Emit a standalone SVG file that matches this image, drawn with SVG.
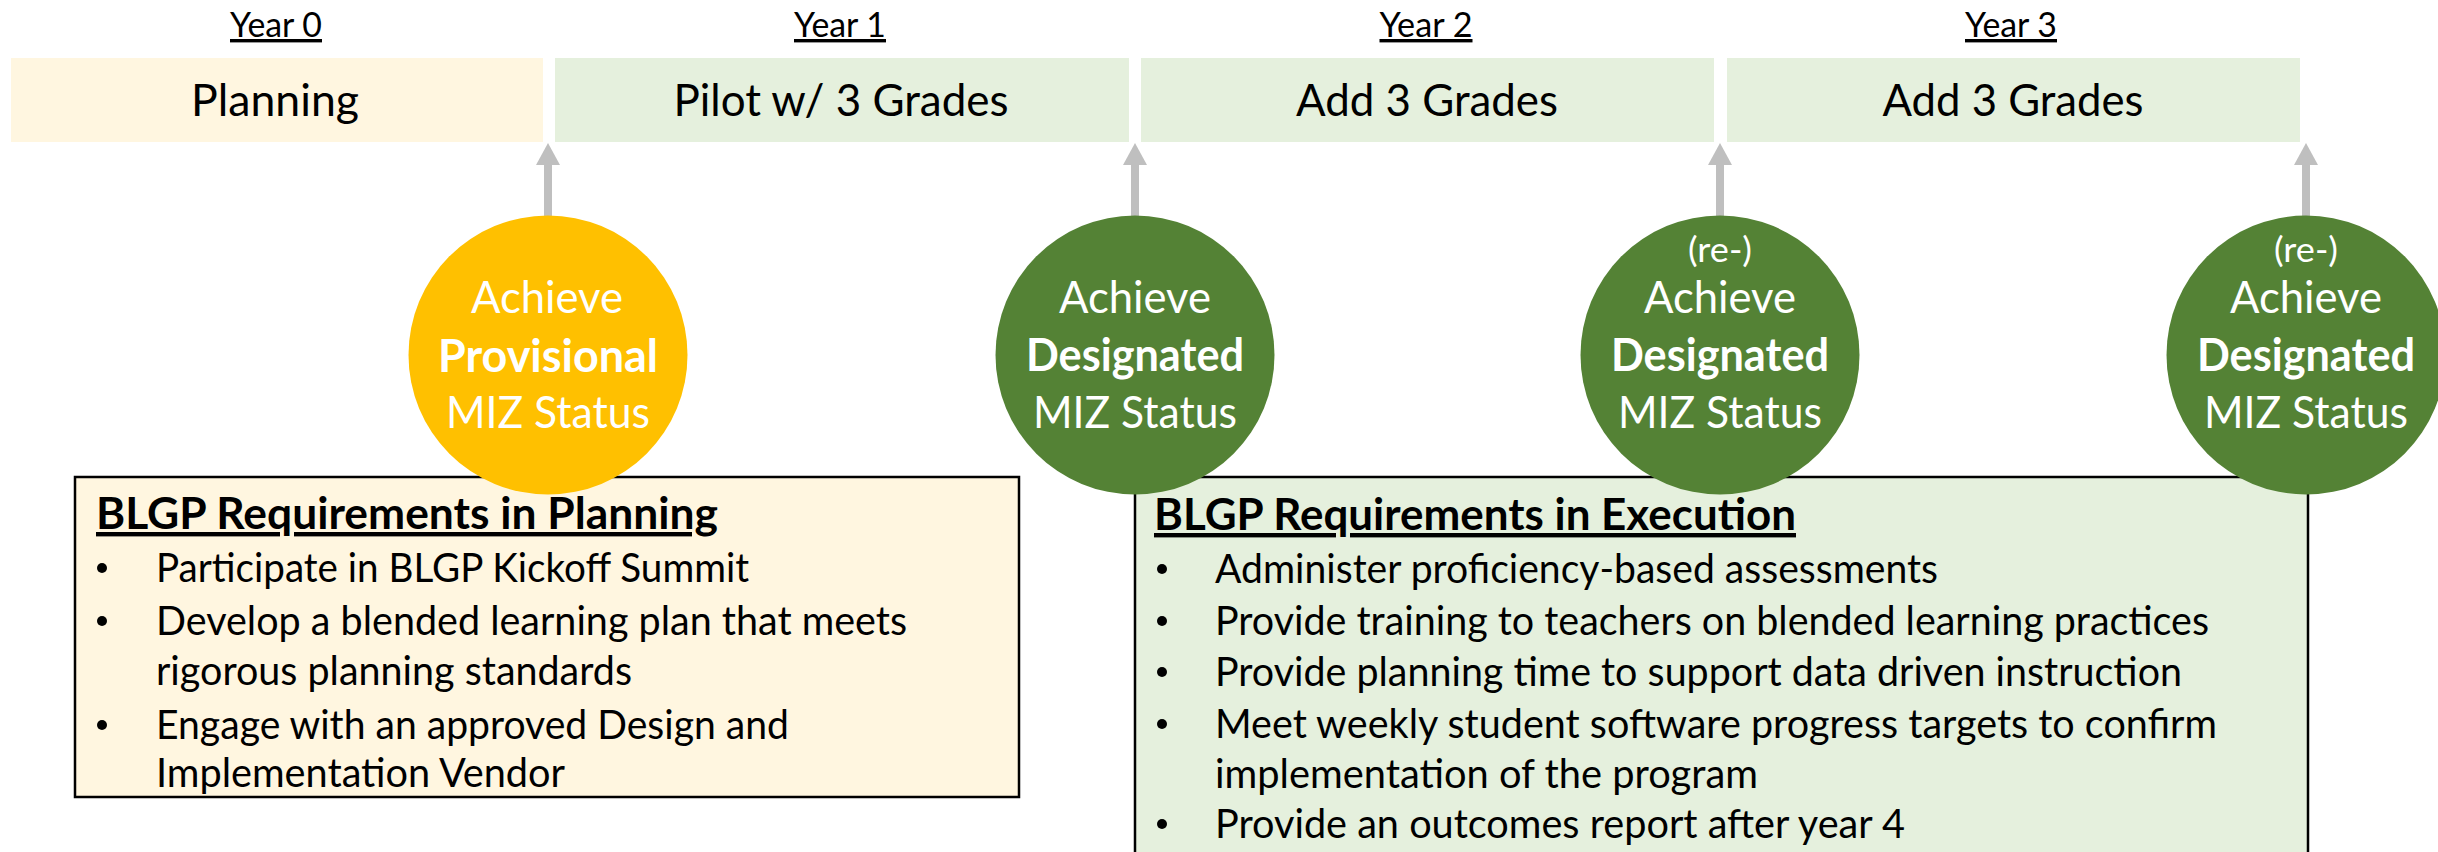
<svg xmlns="http://www.w3.org/2000/svg" width="2438" height="852" viewBox="0 0 2438 852">
<style>
.yr{font-family:Lato,"Liberation Sans",sans-serif;font-size:34px;fill:#000;text-anchor:middle;text-decoration:underline;}
.ph{font-family:Lato,"Liberation Sans",sans-serif;font-size:45px;fill:#000;text-anchor:middle;}
.ct{font-family:Lato,"Liberation Sans",sans-serif;font-size:44px;fill:#fff;text-anchor:middle;}
.ctb{font-family:Lato,"Liberation Sans",sans-serif;font-size:45px;fill:#fff;text-anchor:middle;font-weight:bold;}
.re{font-family:Lato,"Liberation Sans",sans-serif;font-size:35px;fill:#fff;text-anchor:middle;}
.rt{font-family:Lato,"Liberation Sans",sans-serif;font-size:44px;fill:#000;font-weight:bold;text-decoration:underline;}
.rb{font-family:Lato,"Liberation Sans",sans-serif;font-size:40px;fill:#000;}
.yel{fill:#FFF6E0;}
.grn{fill:#E5F0DD;}
.conn{stroke:#BFBFBF;stroke-width:8;fill:none;}
</style>
<defs>
<marker id="ah" markerUnits="userSpaceOnUse" viewBox="0 0 22 24" refX="0" refY="12" markerWidth="22" markerHeight="24" orient="auto">
<path d="M0,0 L22,12 L0,24 z" fill="#BFBFBF"/>
</marker>
</defs>
<g id="year-labels">
<text class="yr" x="276" y="37" textLength="92" lengthAdjust="spacingAndGlyphs">Year 0</text>
<text class="yr" x="840" y="37" textLength="92" lengthAdjust="spacingAndGlyphs">Year 1</text>
<text class="yr" x="1426" y="37" textLength="93" lengthAdjust="spacingAndGlyphs">Year 2</text>
<text class="yr" x="2011" y="37" textLength="92" lengthAdjust="spacingAndGlyphs">Year 3</text>
</g>
<g id="phase-planning">
<rect class="yel" x="11" y="58" width="532" height="84"/>
<text class="ph" x="275" y="116" textLength="168" lengthAdjust="spacingAndGlyphs">Planning</text>
</g>
<g id="phase-pilot">
<rect class="grn" x="555" y="58" width="574" height="84"/>
<text class="ph" x="841" y="116" textLength="335" lengthAdjust="spacingAndGlyphs">Pilot w/ 3 Grades</text>
</g>
<g id="phase-year2">
<rect class="grn" x="1141" y="58" width="573" height="84"/>
<text class="ph" x="1427" y="116" textLength="262" lengthAdjust="spacingAndGlyphs">Add 3 Grades</text>
</g>
<g id="phase-year3">
<rect class="grn" x="1727" y="58" width="573" height="84"/>
<text class="ph" x="2013" y="116" textLength="261" lengthAdjust="spacingAndGlyphs">Add 3 Grades</text>
</g>
<g id="req-planning">
<rect class="yel" x="75" y="477" width="944" height="320" stroke="#000" stroke-width="2.5"/>
<text class="rt" x="96" y="529" textLength="622" lengthAdjust="spacingAndGlyphs">BLGP Requirements in Planning</text>
<circle cx="102" cy="568" r="5"/>
<text class="rb" x="156" y="582" textLength="593" lengthAdjust="spacingAndGlyphs">Participate in BLGP Kickoff Summit</text>
<circle cx="102" cy="621" r="5"/>
<text class="rb" x="156" y="635" textLength="751" lengthAdjust="spacingAndGlyphs">Develop a blended learning plan that meets</text>
<text class="rb" x="156" y="685" textLength="476" lengthAdjust="spacingAndGlyphs">rigorous planning standards</text>
<circle cx="102" cy="725" r="5"/>
<text class="rb" x="156" y="739" textLength="633" lengthAdjust="spacingAndGlyphs">Engage with an approved Design and</text>
<text class="rb" x="156" y="787" textLength="409" lengthAdjust="spacingAndGlyphs">Implementation Vendor</text>
</g>
<g id="req-execution">
<rect class="grn" x="1135" y="477" width="1173" height="390" stroke="#000" stroke-width="2.5"/>
<text class="rt" x="1154" y="530" textLength="642" lengthAdjust="spacingAndGlyphs">BLGP Requirements in Execution</text>
<circle cx="1162" cy="569" r="5"/>
<text class="rb" x="1215" y="583" textLength="723" lengthAdjust="spacingAndGlyphs">Administer proficiency-based assessments</text>
<circle cx="1162" cy="621" r="5"/>
<text class="rb" x="1215" y="635" textLength="994" lengthAdjust="spacingAndGlyphs">Provide training to teachers on blended learning practices</text>
<circle cx="1162" cy="672" r="5"/>
<text class="rb" x="1215" y="686" textLength="967" lengthAdjust="spacingAndGlyphs">Provide planning time to support data driven instruction</text>
<circle cx="1162" cy="724" r="5"/>
<text class="rb" x="1215" y="738" textLength="1002" lengthAdjust="spacingAndGlyphs">Meet weekly student software progress targets to confirm</text>
<text class="rb" x="1215" y="788" textLength="543" lengthAdjust="spacingAndGlyphs">implementation of the program</text>
<circle cx="1162" cy="824" r="5"/>
<text class="rb" x="1215" y="838" textLength="690" lengthAdjust="spacingAndGlyphs">Provide an outcomes report after year 4</text>
</g>
<g id="connectors">
<line class="conn" x1="548" y1="217" x2="548" y2="165" marker-end="url(#ah)"/>
<line class="conn" x1="1135" y1="217" x2="1135" y2="165" marker-end="url(#ah)"/>
<line class="conn" x1="1720" y1="217" x2="1720" y2="165" marker-end="url(#ah)"/>
<line class="conn" x1="2306" y1="217" x2="2306" y2="165" marker-end="url(#ah)"/>
</g>
<g id="milestone-provisional">
<circle cx="548" cy="355" r="139.5" fill="#FFC000"/>
<text class="ct" x="547" y="313" textLength="152" lengthAdjust="spacingAndGlyphs">Achieve</text>
<text class="ctb" x="548" y="372" textLength="220" lengthAdjust="spacingAndGlyphs">Provisional</text>
<text class="ct" x="548" y="428" textLength="204" lengthAdjust="spacingAndGlyphs">MIZ Status</text>
</g>
<g id="milestone-designated-1">
<circle cx="1135" cy="355" r="139.5" fill="#548235"/>
<text class="ct" x="1135" y="313" textLength="152" lengthAdjust="spacingAndGlyphs">Achieve</text>
<text class="ctb" x="1135" y="371" textLength="218" lengthAdjust="spacingAndGlyphs">Designated</text>
<text class="ct" x="1135" y="428" textLength="204" lengthAdjust="spacingAndGlyphs">MIZ Status</text>
</g>
<g id="milestone-designated-2">
<circle cx="1720" cy="355" r="139.5" fill="#548235"/>
<text class="re" x="1720" y="262" textLength="64" lengthAdjust="spacingAndGlyphs">(re-)</text>
<text class="ct" x="1720" y="313" textLength="152" lengthAdjust="spacingAndGlyphs">Achieve</text>
<text class="ctb" x="1720" y="371" textLength="218" lengthAdjust="spacingAndGlyphs">Designated</text>
<text class="ct" x="1720" y="428" textLength="204" lengthAdjust="spacingAndGlyphs">MIZ Status</text>
</g>
<g id="milestone-designated-3">
<circle cx="2306" cy="355" r="139.5" fill="#548235"/>
<text class="re" x="2306" y="262" textLength="64" lengthAdjust="spacingAndGlyphs">(re-)</text>
<text class="ct" x="2306" y="313" textLength="152" lengthAdjust="spacingAndGlyphs">Achieve</text>
<text class="ctb" x="2306" y="371" textLength="218" lengthAdjust="spacingAndGlyphs">Designated</text>
<text class="ct" x="2306" y="428" textLength="204" lengthAdjust="spacingAndGlyphs">MIZ Status</text>
</g>
</svg>
